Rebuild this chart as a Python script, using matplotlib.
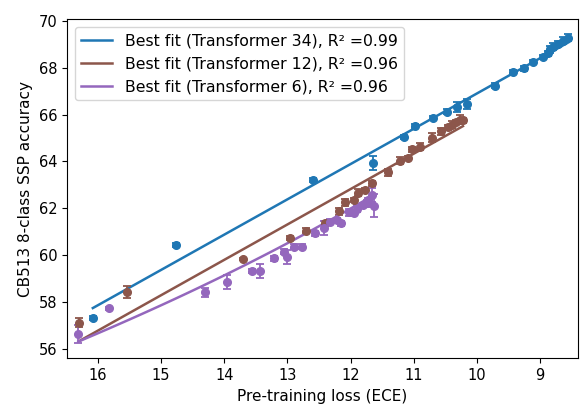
import matplotlib
matplotlib.use("Agg")
import matplotlib.pyplot as plt
import numpy as np

# Transformer 34
t34_loss = [16.08, 14.76, 12.59, 11.64, 11.15, 10.98, 10.69, 10.48, 10.31, 10.16,
            9.71, 9.43, 9.25, 9.11, 8.95, 8.87, 8.84, 8.79, 8.71, 8.63, 8.55]
t34_acc = [57.32, 60.42, 63.22, 63.92, 65.03, 65.52, 65.84, 66.13, 66.33, 66.45,
           67.24, 67.82, 67.98, 68.24, 68.46, 68.62, 68.78, 68.90, 69.02, 69.15, 69.28]
t34_err = [0.08, 0.08, 0.08, 0.3, 0.08, 0.08, 0.08, 0.1, 0.2, 0.2,
           0.1, 0.08, 0.1, 0.1, 0.1, 0.1, 0.15, 0.15, 0.1, 0.15, 0.15]

# Transformer 12
t12_loss = [16.30, 15.54, 13.71, 12.96, 12.71, 12.40, 12.18, 12.09, 11.94, 11.88,
            11.77, 11.66, 11.40, 11.21, 11.09, 11.02, 10.90, 10.71, 10.56, 10.46,
            10.40, 10.33, 10.27, 10.22]
t12_acc = [57.12, 58.44, 59.84, 60.74, 61.05, 61.36, 61.88, 62.26, 62.35, 62.66,
           62.78, 63.06, 63.54, 64.04, 64.15, 64.52, 64.62, 65.02, 65.28, 65.45,
           65.56, 65.68, 65.78, 65.75]
t12_err = [0.2, 0.25, 0.05, 0.08, 0.1, 0.08, 0.15, 0.15, 0.08, 0.15,
           0.1, 0.1, 0.15, 0.15, 0.1, 0.1, 0.15, 0.2, 0.15, 0.1,
           0.15, 0.1, 0.2, 0.1]

# Transformer 6
t6_loss = [16.31, 15.83, 14.30, 13.96, 13.56, 13.43, 13.21, 13.06, 13.00, 12.90,
           12.77, 12.56, 12.42, 12.32, 12.22, 12.15, 12.03, 11.95, 11.90, 11.80,
           11.74, 11.72, 11.66, 11.63]
t6_acc = [56.64, 57.73, 58.42, 58.84, 59.34, 59.34, 59.87, 60.15, 59.92, 60.36,
          60.36, 60.93, 61.15, 61.43, 61.50, 61.36, 61.84, 61.82, 61.98, 62.14,
          62.22, 62.35, 62.55, 62.12]
t6_err = [0.4, 0.05, 0.2, 0.3, 0.08, 0.3, 0.1, 0.1, 0.3, 0.1,
          0.1, 0.1, 0.3, 0.1, 0.1, 0.1, 0.15, 0.1, 0.15, 0.1,
          0.15, 0.1, 0.3, 0.5]

# best fit curves: acc = a + b * f(loss)
fit_kind = ['linear', 'linear', 'log']
fit_a = [81.96, 80.94, 107.96]
fit_b = [-1.506, -1.51, -18.5]
r2_text = ['0.99', '0.96', '0.96']
names = ['Transformer 34', 'Transformer 12', 'Transformer 6']
colors = ['#1f77b4', '#8c564b', '#9467bd']

losses = [t34_loss, t12_loss, t6_loss]
accs = [t34_acc, t12_acc, t6_acc]
errs = [t34_err, t12_err, t6_err]

fig = plt.figure(figsize=(5.82, 4.09), dpi=100)
ax = fig.add_axes([0.115, 0.124, 0.878, 0.829])

for i in range(3):
    x = np.array(losses[i])
    xs = np.linspace(x.max(), x.min(), 100)
    if fit_kind[i] == 'log':
        ys = fit_a[i] + fit_b[i] * np.log(xs)
    else:
        ys = fit_a[i] + fit_b[i] * xs
    ax.plot(xs, ys, color=colors[i], lw=1.8,
            label='Best fit (%s), R\u00b2 =%s' % (names[i], r2_text[i]))
    ax.errorbar(x, accs[i], yerr=errs[i], fmt='o', color=colors[i], ms=5.5,
                capsize=3, elinewidth=1.3, capthick=1.3)

ax.set_xlim(16.49, 8.4)
ax.set_ylim(55.6, 70.07)
ax.set_xticks([16, 15, 14, 13, 12, 11, 10, 9])
ax.set_yticks([56, 58, 60, 62, 64, 66, 68, 70])
ax.tick_params(labelsize=10.5)
ax.set_xlabel('Pre-training loss (ECE)', fontsize=11)
ax.set_ylabel('CB513 8-class SSP accuracy', fontsize=11)
ax.legend(loc='upper left', fontsize=11.3)

fig.savefig('out.png', dpi=100)
